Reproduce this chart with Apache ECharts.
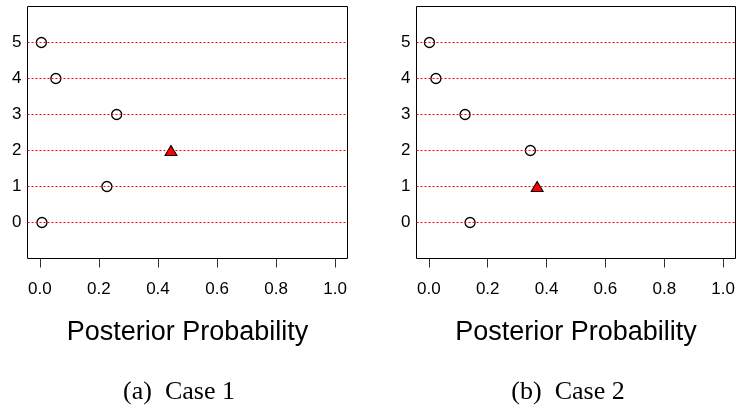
<!DOCTYPE html>
<html>
<head>
<meta charset="utf-8">
<script src="https://cdn.jsdelivr.net/npm/echarts@6/dist/echarts.min.js"></script>
<style>
  html, body { margin: 0; padding: 0; background: #fff; }
  #main { width: 738px; height: 413px; }
</style>
</head>
<body>
<div id="main"></div>
<script>
var levels = [0, 1, 2, 3, 4, 5];
var xTicks = [0, 0.2, 0.4, 0.6, 0.8, 1.0];
// posterior probability for each level
var probCase1 = [0.007, 0.227, 0.444, 0.260, 0.054, 0.005];
var probCase2 = [0.140, 0.368, 0.345, 0.123, 0.024, 0.002];
// level marked with the red triangle
var trueCase1 = 2;
var trueCase2 = 1;
var captions = ['(a)  Case 1', '(b)  Case 2'];

var myChart = echarts.init(document.getElementById('main'));

function circles(prob, hit) {
    var out = [];
    levels.forEach(function (lv, i) {
        if (lv !== hit) out.push([prob[i], lv]);
    });
    return out;
}

function panelSeries(idx, prob, hit) {
    return [
        {
            type: 'line',
            xAxisIndex: idx, yAxisIndex: idx,
            data: [],
            z: 1,
            silent: true,
            markLine: {
                silent: true,
                symbol: ['none', 'none'],
                label: { show: false },
                animation: false,
                lineStyle: { color: '#ff0000', type: [2, 2], width: 1, opacity: 1 },
                emphasis: { disabled: true },
                data: levels.map(function (lv) { return { yAxis: lv }; })
            }
        },
        {
            type: 'scatter',
            xAxisIndex: idx, yAxisIndex: idx,
            z: 3,
            symbol: 'circle',
            symbolSize: 10,
            itemStyle: { color: '#fff', borderColor: '#000', borderWidth: 1.3, opacity: 1 },
            data: circles(prob, hit)
        },
        {
            type: 'scatter',
            xAxisIndex: idx, yAxisIndex: idx,
            z: 4,
            symbol: 'triangle',
            symbolSize: [12, 10],
            itemStyle: { color: '#ff0000', borderColor: '#000', borderWidth: 1, opacity: 1 },
            data: [[prob[levels.indexOf(hit)], hit]]
        }
    ];
}

function xAxisFor(idx) {
    return {
        type: 'value',
        gridIndex: idx,
        min: -0.042,
        max: 1.042,
        name: 'Posterior Probability',
        nameLocation: 'middle',
        nameGap: 61,
        nameTextStyle: { fontFamily: 'Liberation Sans', fontSize: 27, color: '#000' },
        axisLine: { show: false, onZero: false },
        axisTick: { show: true, inside: false, length: 9, customValues: xTicks, lineStyle: { color: '#333' } },
        axisLabel: {
            customValues: xTicks,
            margin: 22,
            fontFamily: 'Liberation Sans', fontSize: 17, color: '#000',
            formatter: function (v) { return v.toFixed(1); }
        },
        splitLine: { show: false }
    };
}

function yAxisFor(idx) {
    return {
        type: 'value',
        gridIndex: idx,
        min: -1,
        max: 6,
        interval: 1,
        axisLine: { show: false, onZero: false },
        axisTick: { show: false },
        axisLabel: {
            customValues: levels,
            margin: 6,
            fontFamily: 'Liberation Sans', fontSize: 17, color: '#000'
        },
        splitLine: { show: false }
    };
}

var option = {
    animation: false,
    grid: [
        { left: 27.5, top: 6.5, width: 320, height: 252, show: true, borderColor: '#000', borderWidth: 1, backgroundColor: 'transparent', outerBoundsMode: 'none' },
        { left: 416.5, top: 6.5, width: 319, height: 252, show: true, borderColor: '#000', borderWidth: 1, backgroundColor: 'transparent', outerBoundsMode: 'none' }
    ],
    xAxis: [xAxisFor(0), xAxisFor(1)],
    yAxis: [yAxisFor(0), yAxisFor(1)],
    graphic: [
        { type: 'text', x: 179, y: 392, style: { text: captions[0], fontFamily: 'Liberation Serif', fontSize: 26, fill: '#000', textAlign: 'center', textVerticalAlign: 'middle' } },
        { type: 'text', x: 568, y: 392, style: { text: captions[1], fontFamily: 'Liberation Serif', fontSize: 26, fill: '#000', textAlign: 'center', textVerticalAlign: 'middle' } }
    ],
    series: panelSeries(0, probCase1, trueCase1).concat(panelSeries(1, probCase2, trueCase2))
};

myChart.setOption(option);
window.onresize = function () { myChart.resize(); };
</script>
</body>
</html>
